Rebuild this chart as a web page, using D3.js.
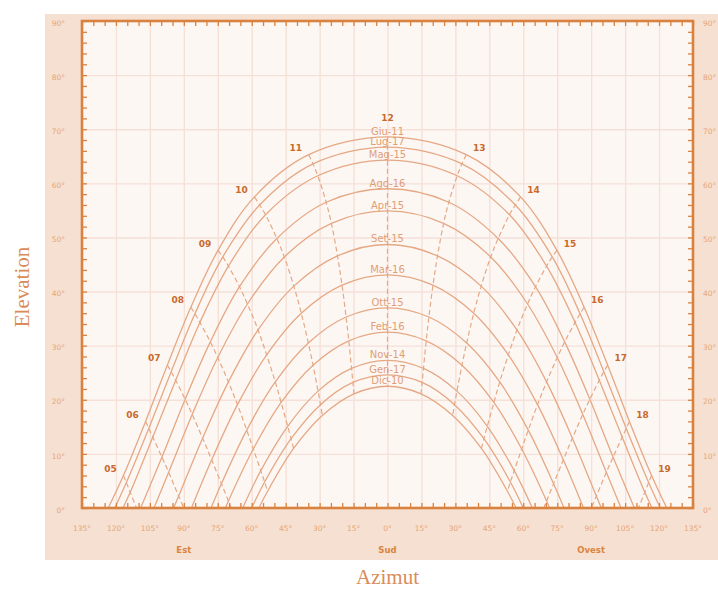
<!DOCTYPE html>
<html>
<head>
<meta charset="utf-8">
<script src="https://cdn.jsdelivr.net/npm/d3@7"></script>
<style>
  body { margin: 0; background: #ffffff; }
  svg { display: block; }
</style>
</head>
<body>
<svg id="chart" width="718" height="590"></svg>
<script>
// Sun path diagram (solar time), one path per month and one dashed line per hour.
const hours = [5, 6, 7, 8, 9, 10, 11, 12, 13, 14, 15, 16, 17, 18, 19];
const monthLabels = ["Giu-11", "Lug-17", "Mag-15", "Ago-16", "Apr-15", "Set-15",
                     "Mar-16", "Ott-15", "Feb-16", "Nov-14", "Gen-17", "Dic-10"];
// azimuth of sunrise (east, negative) and sunset (west, positive), degrees from south
const sunriseAzimuth = [123.4, 120.5, 116.9, 109.1, 103.2, 94.5, 86.6, 78.0, 71.6, 64.0, 60.0, 56.8];
// sun azimuth at each hour (null = sun below the horizon)
const azimuths = [
  [-116.7, -106.9, -97.3, -86.9, -74.9, -58.8, -34.8, 0, 34.8, 58.8, 74.9, 86.9, 97.3, 106.9, 116.7],
  [-115.4, -105.5, -95.6, -85.1, -72.8, -56.5, -32.9, 0, 32.9, 56.5, 72.8, 85.1, 95.6, 105.5, 115.4],
  [-113.7, -103.7, -93.6, -82.9, -70.3, -53.9, -30.8, 0, 30.8, 53.9, 70.3, 82.9, 93.6, 103.7, 113.7],
  [null, -99.7, -89.4, -78.3, -65.4, -48.9, -27.1, 0, 27.1, 48.9, 65.4, 78.3, 89.4, 99.7, null],
  [null, -96.7, -86.3, -75.0, -61.9, -45.6, -24.8, 0, 24.8, 45.6, 61.9, 75.0, 86.3, 96.7, null],
  [null, -92.3, -81.7, -70.3, -57.2, -41.4, -22.1, 0, 22.1, 41.4, 57.2, 70.3, 81.7, 92.3, null],
  [null, null, -77.7, -66.3, -53.4, -38.1, -20.1, 0, 20.1, 38.1, 53.4, 66.3, 77.7, null, null],
  [null, null, -73.4, -62.2, -49.6, -35.0, -18.3, 0, 18.3, 35.0, 49.6, 62.2, 73.4, null, null],
  [null, null, -70.3, -59.3, -47.0, -32.9, -17.1, 0, 17.1, 32.9, 47.0, 59.3, 70.3, null, null],
  [null, null, null, -56.0, -44.1, -30.7, -15.9, 0, 15.9, 30.7, 44.1, 56.0, null, null, null],
  [null, null, null, -54.3, -42.6, -29.6, -15.3, 0, 15.3, 29.6, 42.6, 54.3, null, null, null],
  [null, null, null, -53.0, -41.5, -28.8, -14.8, 0, 14.8, 28.8, 41.5, 53.0, null, null, null]
];
// sun elevation at each hour
const elevations = [
  [6.0, 16.0, 26.4, 37.1, 47.6, 57.5, 65.3, 68.6, 65.3, 57.5, 47.6, 37.1, 26.4, 16.0, 6.0],
  [4.7, 14.7, 25.2, 35.9, 46.4, 56.0, 63.6, 66.7, 63.6, 56.0, 46.4, 35.9, 25.2, 14.7, 4.7],
  [2.9, 13.1, 23.6, 34.3, 44.7, 54.2, 61.4, 64.3, 61.4, 54.2, 44.7, 34.3, 23.6, 13.1, 2.9],
  [null, 9.4, 20.1, 30.7, 40.9, 49.8, 56.5, 59.0, 56.5, 49.8, 40.9, 30.7, 20.1, 9.4, null],
  [null, 6.6, 17.3, 27.8, 37.7, 46.4, 52.6, 54.9, 52.6, 46.4, 37.7, 27.8, 17.3, 6.6, null],
  [null, 2.2, 12.9, 23.3, 32.9, 41.0, 46.6, 48.7, 46.6, 41.0, 32.9, 23.3, 12.9, 2.2, null],
  [null, null, 8.9, 19.1, 28.3, 36.0, 41.2, 43.1, 41.2, 36.0, 28.3, 19.1, 8.9, null, null],
  [null, null, 4.5, 14.4, 23.3, 30.5, 35.3, 37.0, 35.3, 30.5, 23.3, 14.4, 4.5, null, null],
  [null, null, 1.3, 10.9, 19.5, 26.4, 30.9, 32.5, 30.9, 26.4, 19.5, 10.9, 1.3, null, null],
  [null, null, null, 6.9, 15.1, 21.6, 25.8, 27.3, 25.8, 21.6, 15.1, 6.9, null, null, null],
  [null, null, null, 4.8, 12.8, 19.1, 23.2, 24.6, 23.2, 19.1, 12.8, 4.8, null, null, null],
  [null, null, null, 3.1, 11.0, 17.1, 21.1, 22.5, 21.1, 17.1, 11.0, 3.1, null, null, null]
];
// hours whose line reaches the horizon, and the azimuth where it does
const horizonHours = [5, 6, 7, 17, 18, 19];
const horizonAzimuth = [-110.9, -90.0, -69.1, 69.1, 90.0, 110.9];

const xTickLabels = d3.range(-135, 136, 15);
const yTickLabels = d3.range(0, 91, 10);
const sideLabels = ["Est", "Sud", "Ovest"];
const sideAzimuth = [-90, 0, 90];

const C = {
  panel: "#f6e0d1",
  plot: "#fdf7f4",
  grid: "#f5e1d8",
  frame: "#d9823f",
  path: "#e5a884",
  hourText: "#c96a2c",
  monthText: "#e09e76",
  tick: "#e5a67a",
  title: "#d98c5a",
  side: "#d9843f"
};

const svg = d3.select("#chart");
const plotLeft = 82, plotRight = 693, plotTop = 21, plotBottom = 508;

const x = d3.scaleLinear().domain([-135, 135]).range([plotLeft, plotRight]);
const y = d3.scaleLinear().domain([0, 90]).range([plotBottom, plotTop]);

// background panel and plotting area
svg.append("rect").attr("x", 45).attr("y", 14).attr("width", 673).attr("height", 546).attr("fill", C.panel);
svg.append("rect").attr("x", plotLeft).attr("y", plotTop).attr("width", plotRight - plotLeft)
  .attr("height", plotBottom - plotTop).attr("fill", C.plot);

// grid
const grid = svg.append("g");
grid.append("g").attr("transform", `translate(0,${plotBottom})`)
  .call(d3.axisBottom(x).tickValues(d3.range(-120, 121, 15)).tickSize(-(plotBottom - plotTop)).tickFormat(""))
  .call(g => g.select(".domain").remove())
  .call(g => g.selectAll("line").attr("stroke", C.grid).attr("stroke-width", 1.4));
grid.append("g").attr("transform", `translate(${plotLeft},0)`)
  .call(d3.axisLeft(y).tickValues(d3.range(10, 81, 10)).tickSize(-(plotRight - plotLeft)).tickFormat(""))
  .call(g => g.select(".domain").remove())
  .call(g => g.selectAll("line").attr("stroke", C.grid).attr("stroke-width", 1.4));

svg.append("clipPath").attr("id", "plotClip")
  .append("rect").attr("x", plotLeft).attr("y", plotTop)
  .attr("width", plotRight - plotLeft).attr("height", plotBottom - plotTop);
const plot = svg.append("g").attr("clip-path", "url(#plotClip)");

const line = d3.line().x(d => x(d[0])).y(d => y(d[1])).curve(d3.curveCatmullRom.alpha(0.5));

// month paths: sunrise -> hourly positions -> sunset
const monthPaths = monthLabels.map((m, i) => {
  const pts = [[-sunriseAzimuth[i], 0]];
  hours.forEach((h, j) => { if (elevations[i][j] !== null) pts.push([azimuths[i][j], elevations[i][j]]); });
  pts.push([sunriseAzimuth[i], 0]);
  return pts;
});
plot.append("g").selectAll("path").data(monthPaths).join("path")
  .attr("d", line).attr("fill", "none").attr("stroke", C.path).attr("stroke-width", 1.3);

// hour lines across the months
const hourPaths = hours.map((h, j) => {
  const pts = [];
  monthLabels.forEach((m, i) => { if (elevations[i][j] !== null) pts.push([azimuths[i][j], elevations[i][j]]); });
  const k = horizonHours.indexOf(h);
  if (k >= 0) pts.push([horizonAzimuth[k], 0]);
  return pts;
});
plot.append("g").selectAll("path").data(hourPaths).join("path")
  .attr("d", line).attr("fill", "none").attr("stroke", C.path).attr("stroke-width", 1.2)
  .attr("stroke-dasharray", "5,3");

// month labels at solar noon
const noon = hours.indexOf(12);
svg.append("g").selectAll("text").data(monthLabels).join("text")
  .attr("x", x(0)).attr("y", (d, i) => y(elevations[i][noon]) - 2)
  .attr("text-anchor", "middle").attr("font-family", "DejaVu Sans, sans-serif")
  .attr("font-size", 10).attr("fill", C.monthText).text(d => d);

// hour labels next to the highest path
svg.append("g").selectAll("text").data(hours).join("text")
  .attr("x", (h, j) => x(azimuths[0][j]) + (azimuths[0][j] < 0 ? -13 : azimuths[0][j] > 0 ? 13 : 0))
  .attr("y", (h, j) => y(elevations[0][j]) + (azimuths[0][j] === 0 ? -19 : -7))
  .attr("dy", "0.35em").attr("text-anchor", "middle")
  .attr("font-family", "DejaVu Sans, sans-serif").attr("font-weight", "bold")
  .attr("font-size", 9).attr("fill", C.hourText)
  .text(h => String(h).padStart(2, "0"));

// frame with inward ticks on every side
const frame = svg.append("g");
frame.append("g").attr("transform", `translate(0,${plotBottom})`)
  .call(d3.axisBottom(x).tickValues(d3.range(-135, 136, 5)).tickSize(-5).tickFormat(""));
frame.append("g").attr("transform", `translate(0,${plotTop})`)
  .call(d3.axisTop(x).tickValues(d3.range(-135, 136, 5)).tickSize(-5).tickFormat(""));
frame.append("g").attr("transform", `translate(${plotLeft},0)`)
  .call(d3.axisLeft(y).tickValues(d3.range(0, 91, 2)).tickSize(-5).tickFormat(""));
frame.append("g").attr("transform", `translate(${plotRight},0)`)
  .call(d3.axisRight(y).tickValues(d3.range(0, 91, 2)).tickSize(-5).tickFormat(""));
frame.selectAll(".domain").remove();
frame.selectAll("line").attr("stroke", C.frame).attr("stroke-width", 1.3);
frame.append("rect").attr("x", plotLeft).attr("y", plotTop)
  .attr("width", plotRight - plotLeft).attr("height", plotBottom - plotTop)
  .attr("fill", "none").attr("stroke", C.frame).attr("stroke-width", 2.6);

// tick labels
const tickFont = "DejaVu Sans, sans-serif";
svg.append("g").selectAll("text").data(xTickLabels).join("text")
  .attr("x", d => x(d)).attr("y", 528).attr("dy", "0.35em").attr("text-anchor", "middle")
  .attr("font-family", tickFont).attr("font-size", 7.5).attr("fill", C.tick)
  .text(d => Math.abs(d) + "°");
svg.append("g").selectAll("text").data(yTickLabels).join("text")
  .attr("x", 65).attr("y", d => y(d) + 2).attr("dy", "0.35em").attr("text-anchor", "end")
  .attr("font-family", tickFont).attr("font-size", 7.5).attr("fill", C.tick)
  .text(d => d + "°");
svg.append("g").selectAll("text").data(yTickLabels).join("text")
  .attr("x", 703).attr("y", d => y(d) + 2).attr("dy", "0.35em").attr("text-anchor", "start")
  .attr("font-family", tickFont).attr("font-size", 7.5).attr("fill", C.tick)
  .text(d => d + "°");

// cardinal directions under the azimuth scale
svg.append("g").selectAll("text").data(sideLabels).join("text")
  .attr("x", (d, i) => x(sideAzimuth[i])).attr("y", 550).attr("dy", "0.35em").attr("text-anchor", "middle")
  .attr("font-family", tickFont).attr("font-weight", "bold").attr("font-size", 8.5).attr("fill", C.side)
  .text(d => d);

// axis titles
svg.append("text").attr("x", x(0)).attr("y", 577).attr("dy", "0.35em").attr("text-anchor", "middle")
  .attr("font-family", "Liberation Serif, serif").attr("font-size", 21).attr("fill", C.title).text("Azimut");
svg.append("text").attr("transform", "translate(22,287) rotate(-90)").attr("dy", "0.35em")
  .attr("text-anchor", "middle").attr("font-family", "Liberation Serif, serif").attr("font-size", 21)
  .attr("fill", C.title).text("Elevation");
</script>
</body>
</html>
